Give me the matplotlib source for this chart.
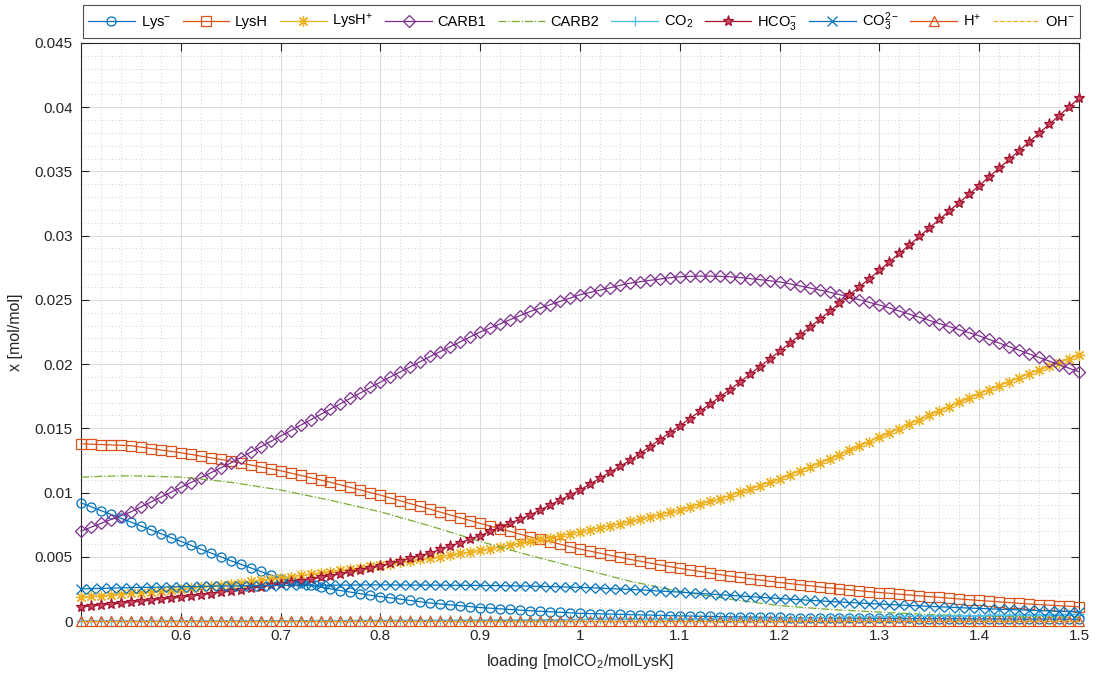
import numpy as np
import matplotlib
matplotlib.use("Agg")
import matplotlib.pyplot as plt
from matplotlib.ticker import MultipleLocator

plt.rcParams['font.family'] = ['Liberation Sans', 'DejaVu Sans']
plt.rcParams['mathtext.fontset'] = 'custom'
plt.rcParams['mathtext.rm'] = 'Liberation Sans'
plt.rcParams['mathtext.it'] = 'Liberation Sans'
plt.rcParams['mathtext.default'] = 'regular'

# loading grid, 0.5 .. 1.5 in steps of 0.01
loading = np.round(np.linspace(0.5, 1.5, 101), 2)

lys_minus = [
    0.00920, 0.00890, 0.00860, 0.00830, 0.00800, 0.00770, 0.00740, 0.00710, 0.00680, 0.00650,
    0.00620, 0.00590, 0.00560, 0.00530, 0.00500, 0.00470, 0.00442, 0.00414, 0.00386, 0.00358,
    0.00330, 0.00312, 0.00295, 0.00279, 0.00264, 0.00250, 0.00237, 0.00225, 0.00213, 0.00201,
    0.00190, 0.00180, 0.00170, 0.00160, 0.00150, 0.00140, 0.00133, 0.00126, 0.00119, 0.00112,
    0.00105, 0.00100, 0.00095, 0.00090, 0.00085, 0.00080, 0.00076, 0.00072, 0.00068, 0.00064,
    0.00060, 0.00058, 0.00056, 0.00054, 0.00052, 0.00050, 0.00048, 0.00046, 0.00044, 0.00042,
    0.00040, 0.00039, 0.00037, 0.00036, 0.00034, 0.00033, 0.00032, 0.00031, 0.00030, 0.00029,
    0.00028, 0.00027, 0.00026, 0.00026, 0.00025, 0.00024, 0.00023, 0.00023, 0.00022, 0.00022,
    0.00021, 0.00021, 0.00020, 0.00020, 0.00019, 0.00019, 0.00019, 0.00018, 0.00018, 0.00017,
    0.00017, 0.00017, 0.00016, 0.00016, 0.00015, 0.00015, 0.00015, 0.00015, 0.00014, 0.00014,
    0.00014]

lys_h = [
    0.01380, 0.01377, 0.01374, 0.01371, 0.01368, 0.01365, 0.01354, 0.01343, 0.01332, 0.01321,
    0.01310, 0.01297, 0.01284, 0.01271, 0.01258, 0.01245, 0.01230, 0.01215, 0.01200, 0.01185,
    0.01170, 0.01152, 0.01134, 0.01116, 0.01098, 0.01080, 0.01060, 0.01040, 0.01020, 0.01000,
    0.00980, 0.00958, 0.00936, 0.00914, 0.00892, 0.00870, 0.00848, 0.00826, 0.00804, 0.00782,
    0.00760, 0.00739, 0.00718, 0.00697, 0.00676, 0.00655, 0.00636, 0.00617, 0.00598, 0.00579,
    0.00560, 0.00544, 0.00528, 0.00512, 0.00496, 0.00480, 0.00466, 0.00452, 0.00438, 0.00424,
    0.00410, 0.00398, 0.00386, 0.00374, 0.00362, 0.00350, 0.00340, 0.00330, 0.00320, 0.00310,
    0.00300, 0.00292, 0.00283, 0.00275, 0.00266, 0.00258, 0.00251, 0.00244, 0.00236, 0.00229,
    0.00222, 0.00216, 0.00209, 0.00203, 0.00196, 0.00190, 0.00184, 0.00178, 0.00172, 0.00166,
    0.00160, 0.00155, 0.00149, 0.00144, 0.00138, 0.00133, 0.00128, 0.00124, 0.00119, 0.00115,
    0.00110]

lys_h_plus = [
    0.00185, 0.00191, 0.00197, 0.00203, 0.00209, 0.00215, 0.00222, 0.00229, 0.00236, 0.00243,
    0.00250, 0.00258, 0.00266, 0.00274, 0.00282, 0.00290, 0.00299, 0.00308, 0.00317, 0.00326,
    0.00335, 0.00345, 0.00355, 0.00365, 0.00375, 0.00385, 0.00395, 0.00405, 0.00415, 0.00425,
    0.00435, 0.00446, 0.00457, 0.00468, 0.00479, 0.00490, 0.00502, 0.00514, 0.00526, 0.00538,
    0.00550, 0.00564, 0.00578, 0.00592, 0.00606, 0.00620, 0.00635, 0.00650, 0.00665, 0.00680,
    0.00695, 0.00711, 0.00727, 0.00743, 0.00759, 0.00775, 0.00793, 0.00811, 0.00829, 0.00847,
    0.00865, 0.00887, 0.00909, 0.00931, 0.00953, 0.00975, 0.01001, 0.01027, 0.01053, 0.01079,
    0.01105, 0.01136, 0.01167, 0.01198, 0.01229, 0.01260, 0.01294, 0.01328, 0.01362, 0.01396,
    0.01430, 0.01464, 0.01498, 0.01532, 0.01566, 0.01600, 0.01634, 0.01668, 0.01702, 0.01736,
    0.01770, 0.01801, 0.01832, 0.01863, 0.01894, 0.01925, 0.01954, 0.01983, 0.02012, 0.02041,
    0.02070]

carb1 = [
    0.00700, 0.00730, 0.00760, 0.00790, 0.00820, 0.00850, 0.00888, 0.00926, 0.00964, 0.01002,
    0.01040, 0.01078, 0.01116, 0.01154, 0.01192, 0.01230, 0.01272, 0.01314, 0.01356, 0.01398,
    0.01440, 0.01482, 0.01524, 0.01566, 0.01608, 0.01650, 0.01692, 0.01734, 0.01776, 0.01818,
    0.01860, 0.01900, 0.01940, 0.01980, 0.02020, 0.02060, 0.02098, 0.02136, 0.02174, 0.02212,
    0.02250, 0.02282, 0.02314, 0.02346, 0.02378, 0.02410, 0.02436, 0.02462, 0.02488, 0.02514,
    0.02540, 0.02558, 0.02576, 0.02594, 0.02612, 0.02630, 0.02641, 0.02652, 0.02662, 0.02672,
    0.02680, 0.02683, 0.02685, 0.02685, 0.02683, 0.02680, 0.02674, 0.02666, 0.02658, 0.02649,
    0.02640, 0.02625, 0.02609, 0.02593, 0.02577, 0.02560, 0.02541, 0.02521, 0.02501, 0.02481,
    0.02460, 0.02437, 0.02413, 0.02389, 0.02365, 0.02340, 0.02316, 0.02292, 0.02268, 0.02244,
    0.02220, 0.02192, 0.02164, 0.02136, 0.02108, 0.02080, 0.02052, 0.02024, 0.01996, 0.01968,
    0.01940]

carb2 = [
    0.01120, 0.01123, 0.01126, 0.01128, 0.01129, 0.01130, 0.01129, 0.01127, 0.01125, 0.01122,
    0.01120, 0.01113, 0.01105, 0.01097, 0.01089, 0.01080, 0.01068, 0.01056, 0.01044, 0.01032,
    0.01020, 0.01004, 0.00988, 0.00972, 0.00956, 0.00940, 0.00922, 0.00904, 0.00886, 0.00868,
    0.00850, 0.00828, 0.00806, 0.00784, 0.00762, 0.00740, 0.00716, 0.00692, 0.00668, 0.00644,
    0.00620, 0.00598, 0.00576, 0.00554, 0.00532, 0.00510, 0.00490, 0.00470, 0.00450, 0.00430,
    0.00410, 0.00390, 0.00370, 0.00350, 0.00330, 0.00310, 0.00294, 0.00278, 0.00262, 0.00246,
    0.00230, 0.00218, 0.00206, 0.00194, 0.00182, 0.00170, 0.00160, 0.00150, 0.00140, 0.00130,
    0.00120, 0.00114, 0.00108, 0.00102, 0.00096, 0.00090, 0.00086, 0.00082, 0.00078, 0.00074,
    0.00070, 0.00066, 0.00062, 0.00058, 0.00054, 0.00050, 0.00048, 0.00046, 0.00044, 0.00042,
    0.00040, 0.00038, 0.00036, 0.00034, 0.00032, 0.00030, 0.00030, 0.00030, 0.00030, 0.00030,
    0.00030]

co2 = [
    0.00001, 0.00001, 0.00001, 0.00001, 0.00001, 0.00001, 0.00001, 0.00001, 0.00001, 0.00002,
    0.00002, 0.00002, 0.00002, 0.00002, 0.00002, 0.00002, 0.00002, 0.00003, 0.00003, 0.00003,
    0.00003, 0.00003, 0.00003, 0.00004, 0.00004, 0.00004, 0.00004, 0.00004, 0.00005, 0.00005,
    0.00005, 0.00005, 0.00006, 0.00006, 0.00006, 0.00006, 0.00007, 0.00007, 0.00007, 0.00008,
    0.00008, 0.00008, 0.00009, 0.00009, 0.00009, 0.00010, 0.00010, 0.00011, 0.00011, 0.00012,
    0.00012, 0.00013, 0.00013, 0.00014, 0.00014, 0.00015, 0.00015, 0.00016, 0.00016, 0.00017,
    0.00018, 0.00018, 0.00019, 0.00020, 0.00020, 0.00021, 0.00022, 0.00022, 0.00023, 0.00024,
    0.00025, 0.00025, 0.00026, 0.00027, 0.00028, 0.00029, 0.00030, 0.00031, 0.00031, 0.00032,
    0.00033, 0.00034, 0.00035, 0.00036, 0.00037, 0.00038, 0.00039, 0.00040, 0.00041, 0.00042,
    0.00043, 0.00044, 0.00045, 0.00046, 0.00047, 0.00048, 0.00049, 0.00050, 0.00051, 0.00052,
    0.00053]

hco3 = [
    0.00110, 0.00117, 0.00124, 0.00131, 0.00138, 0.00145, 0.00153, 0.00161, 0.00169, 0.00177,
    0.00185, 0.00194, 0.00204, 0.00213, 0.00223, 0.00232, 0.00243, 0.00254, 0.00266, 0.00277,
    0.00288, 0.00301, 0.00314, 0.00326, 0.00339, 0.00352, 0.00367, 0.00382, 0.00398, 0.00413,
    0.00428, 0.00448, 0.00469, 0.00489, 0.00510, 0.00530, 0.00557, 0.00584, 0.00611, 0.00638,
    0.00665, 0.00697, 0.00729, 0.00761, 0.00793, 0.00825, 0.00864, 0.00903, 0.00942, 0.00981,
    0.01020, 0.01066, 0.01112, 0.01158, 0.01204, 0.01250, 0.01304, 0.01358, 0.01412, 0.01466,
    0.01520, 0.01576, 0.01632, 0.01688, 0.01744, 0.01800, 0.01860, 0.01920, 0.01980, 0.02040,
    0.02100, 0.02162, 0.02224, 0.02286, 0.02348, 0.02410, 0.02474, 0.02538, 0.02602, 0.02666,
    0.02730, 0.02796, 0.02862, 0.02928, 0.02994, 0.03060, 0.03126, 0.03192, 0.03258, 0.03324,
    0.03390, 0.03458, 0.03526, 0.03594, 0.03662, 0.03730, 0.03798, 0.03866, 0.03934, 0.04002,
    0.04070]

co3 = [
    0.00250, 0.00252, 0.00254, 0.00256, 0.00258, 0.00260, 0.00261, 0.00263, 0.00264, 0.00266,
    0.00267, 0.00268, 0.00269, 0.00271, 0.00272, 0.00273, 0.00274, 0.00275, 0.00275, 0.00276,
    0.00277, 0.00278, 0.00278, 0.00279, 0.00279, 0.00280, 0.00280, 0.00280, 0.00281, 0.00281,
    0.00281, 0.00281, 0.00281, 0.00280, 0.00280, 0.00280, 0.00279, 0.00279, 0.00278, 0.00278,
    0.00277, 0.00276, 0.00275, 0.00274, 0.00273, 0.00272, 0.00270, 0.00268, 0.00266, 0.00264,
    0.00262, 0.00259, 0.00256, 0.00252, 0.00249, 0.00246, 0.00242, 0.00238, 0.00233, 0.00229,
    0.00225, 0.00220, 0.00215, 0.00210, 0.00205, 0.00200, 0.00195, 0.00190, 0.00185, 0.00180,
    0.00175, 0.00170, 0.00166, 0.00161, 0.00157, 0.00152, 0.00148, 0.00144, 0.00140, 0.00136,
    0.00132, 0.00128, 0.00125, 0.00121, 0.00118, 0.00114, 0.00111, 0.00108, 0.00104, 0.00101,
    0.00098, 0.00095, 0.00092, 0.00090, 0.00087, 0.00084, 0.00082, 0.00079, 0.00077, 0.00074,
    0.00072]

# H+ and OH- stay at ~0 over the whole range
h_plus = [
    0.0, 0.0, 0.0, 0.0, 0.0, 0.0, 0.0, 0.0, 0.0, 0.0,
    0.0, 0.0, 0.0, 0.0, 0.0, 0.0, 0.0, 0.0, 0.0, 0.0,
    0.0, 0.0, 0.0, 0.0, 0.0, 0.0, 0.0, 0.0, 0.0, 0.0,
    0.0, 0.0, 0.0, 0.0, 0.0, 0.0, 0.0, 0.0, 0.0, 0.0,
    0.0, 0.0, 0.0, 0.0, 0.0, 0.0, 0.0, 0.0, 0.0, 0.0,
    0.0, 0.0, 0.0, 0.0, 0.0, 0.0, 0.0, 0.0, 0.0, 0.0,
    0.0, 0.0, 0.0, 0.0, 0.0, 0.0, 0.0, 0.0, 0.0, 0.0,
    0.0, 0.0, 0.0, 0.0, 0.0, 0.0, 0.0, 0.0, 0.0, 0.0,
    0.0, 0.0, 0.0, 0.0, 0.0, 0.0, 0.0, 0.0, 0.0, 0.0,
    0.0, 0.0, 0.0, 0.0, 0.0, 0.0, 0.0, 0.0, 0.0, 0.0,
    0.0]
oh_minus = list(h_plus)

labels = ['Lys$^{-}$', 'LysH', 'LysH$^{+}$', 'CARB1', 'CARB2', 'CO$_2$',
          'HCO$_3^{-}$', 'CO$_3^{2-}$', 'H$^{+}$', 'OH$^{-}$']
series = [lys_minus, lys_h, lys_h_plus, carb1, carb2, co2, hco3, co3, h_plus, oh_minus]

# matlab default colour order, asterisk for LysH+, pentagram for HCO3-
asterisk = (8, 2, 0)
styles = [
    dict(color='#0072BD', marker='o', ls='-', ms=6.5, mfc='none'),
    dict(color='#D95319', marker='s', ls='-', ms=6.5, mfc='none'),
    dict(color='#EDB120', marker=asterisk, ls='-', ms=8, mfc='none'),
    dict(color='#7E2F8E', marker='D', ls='-', ms=6, mfc='none'),
    dict(color='#77AC30', marker='', ls='-.', ms=6, mfc='none'),
    dict(color='#4DBEEE', marker='+', ls='-', ms=7, mfc='none'),
    dict(color='#A2142F', marker='*', ls='-', ms=8, mfc='#c94a60'),
    dict(color='#0072BD', marker='x', ls='-', ms=6.5, mfc='none'),
    dict(color='#D95319', marker='^', ls='-', ms=6.5, mfc='none'),
    dict(color='#EDB120', marker='', ls='--', ms=6, mfc='none'),
]

fig = plt.figure(figsize=(10.96, 6.82), dpi=100, facecolor='white')
ax = fig.add_axes([0.0739, 0.0894, 0.9106, 0.8476])

handles = []
for y, lab, st in zip(series, labels, styles):
    h, = ax.plot(loading, y, color=st['color'], marker=st['marker'], linestyle=st['ls'],
                 lw=0.9, ms=st['ms'], mfc=st['mfc'], mew=0.9, label=lab,
                 clip_on=False, zorder=3)
    handles.append(h)

ax.set_xlim(0.5, 1.5)
ax.set_ylim(0, 0.045)
ax.xaxis.set_minor_locator(MultipleLocator(0.02))
ax.yaxis.set_minor_locator(MultipleLocator(0.001))
ax.set_xticks(np.round(np.arange(0.6, 1.51, 0.1), 1))
ax.set_xticklabels(['0.6', '0.7', '0.8', '0.9', '1', '1.1', '1.2', '1.3', '1.4', '1.5'])
ax.set_yticks(np.round(np.arange(0, 0.0451, 0.005), 3))
ax.set_yticklabels(['0', '0.005', '0.01', '0.015', '0.02', '0.025', '0.03', '0.035', '0.04', '0.045'])

ax.grid(which='major', color='#dadada', lw=0.7, ls='-', zorder=0)
ax.grid(which='minor', color='#cfcfcf', lw=0.7, ls=(0, (1, 2.5)), zorder=0)
ax.set_axisbelow(True)

ax.tick_params(which='major', direction='in', length=6, width=0.8, colors='#262626',
               labelsize=11, top=True, right=True, pad=6)
ax.tick_params(which='minor', length=0, top=True, right=True)
for sp in ax.spines.values():
    sp.set_color('#262626')
    sp.set_linewidth(0.8)

ax.set_xlabel('loading [molCO$_2$/molLysK]', fontsize=11.5, color='#262626', labelpad=6)
ax.set_ylabel('x [mol/mol]', fontsize=11.5, color='#262626', labelpad=8)

leg = fig.legend(handles=handles, loc='center', ncol=10, mode='expand',
                 bbox_to_anchor=(0.0757, 0.9457, 0.9097, 0.0453),
                 fontsize=10.5, frameon=True, fancybox=False, numpoints=1,
                 handlelength=3.2, handletextpad=0.4, columnspacing=0.8,
                 borderaxespad=0.0, borderpad=0.35)
leg.get_frame().set_edgecolor('#262626')
leg.get_frame().set_linewidth(0.8)

fig.savefig('out.png', dpi=100, facecolor='white')
